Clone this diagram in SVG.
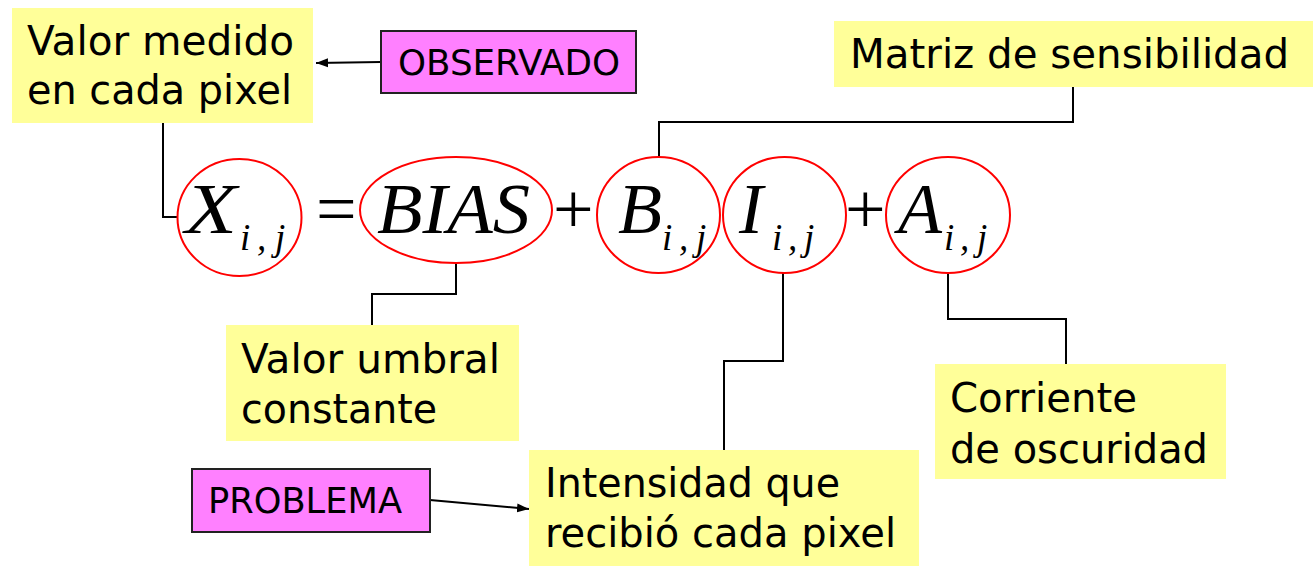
<svg xmlns="http://www.w3.org/2000/svg" width="1316" height="581" viewBox="0 0 1316 581">
<style>
.note{fill:#FFFF99;}
.tag{fill:#FF80FF;stroke:#222;stroke-width:2;}
.lbl{font-family:"DejaVu Sans","Liberation Sans",sans-serif;fill:#000;}
.big{font-size:40px;}
.mid{font-size:35px;}
.math{font-family:"Liberation Serif","Times New Roman",serif;font-style:italic;font-size:72px;fill:#000;}
.op{font-family:"Liberation Serif","Times New Roman",serif;font-size:72px;fill:#000;}
.sub{font-family:"Liberation Serif","Times New Roman",serif;font-style:italic;font-size:37px;fill:#000;}
.ring{fill:none;stroke:#FF0000;stroke-width:2;}
.wire{fill:none;stroke:#000;stroke-width:2;}
</style>
<defs>
<marker id="arr" viewBox="0 0 12 10" refX="12" refY="5" markerWidth="12" markerHeight="10" markerUnits="userSpaceOnUse" orient="auto">
<path d="M0,0.5 L12,5 L0,9.5 Z" fill="#000"/>
</marker>
</defs>
<rect width="1316" height="581" fill="#fff"/>

<g id="connectors">
<path class="wire" d="M163 122 V217 H178"/>
<path class="wire" d="M1073 87 V122 H659 V157"/>
<path class="wire" d="M456 263 V294 H372 V325"/>
<path class="wire" d="M783 273 V361 H724 V450"/>
<path class="wire" d="M948 273 V319 H1066 V364"/>
<path class="wire" d="M381 62 L316 63" marker-end="url(#arr)"/>
<path class="wire" d="M430 500 L529 509" marker-end="url(#arr)"/>
</g>

<g id="valor-medido">
<rect class="note" x="12" y="8" width="301" height="115"/>
<text class="lbl big" x="27" y="55" textLength="267" lengthAdjust="spacingAndGlyphs">Valor medido</text>
<text class="lbl big" x="27" y="104" textLength="265" lengthAdjust="spacingAndGlyphs">en cada pixel</text>
</g>

<g id="observado">
<rect class="tag" x="381" y="31" width="255" height="62"/>
<text class="lbl mid" x="398" y="75" textLength="222" lengthAdjust="spacingAndGlyphs">OBSERVADO</text>
</g>

<g id="matriz">
<rect class="note" x="834" y="21" width="479" height="66"/>
<text class="lbl big" x="850" y="68" textLength="439" lengthAdjust="spacingAndGlyphs">Matriz de sensibilidad</text>
</g>

<g id="umbral">
<rect class="note" x="226" y="325" width="293" height="116"/>
<text class="lbl big" x="241" y="373" textLength="259" lengthAdjust="spacingAndGlyphs">Valor umbral</text>
<text class="lbl big" x="241" y="423" textLength="196" lengthAdjust="spacingAndGlyphs">constante</text>
</g>

<g id="corriente">
<rect class="note" x="935" y="364" width="291" height="115"/>
<text class="lbl big" x="950" y="412" textLength="187" lengthAdjust="spacingAndGlyphs">Corriente</text>
<text class="lbl big" x="950" y="463" textLength="258" lengthAdjust="spacingAndGlyphs">de oscuridad</text>
</g>

<g id="intensidad">
<rect class="note" x="529" y="450" width="390" height="116"/>
<text class="lbl big" x="545" y="497" textLength="295" lengthAdjust="spacingAndGlyphs">Intensidad que</text>
<text class="lbl big" x="545" y="547" textLength="351" lengthAdjust="spacingAndGlyphs">recibió cada pixel</text>
</g>

<g id="problema">
<rect class="tag" x="192" y="469" width="238" height="63"/>
<text class="lbl mid" x="208" y="513" textLength="194" lengthAdjust="spacingAndGlyphs">PROBLEMA</text>
</g>

<g id="term-x">
<ellipse class="ring" cx="239.5" cy="217.5" rx="62" ry="58.5"/>
<text class="math" x="185" y="233" textLength="52" lengthAdjust="spacingAndGlyphs">X</text>
<text class="sub" x="240" y="250">i</text>
<text class="sub" x="257" y="250">,</text>
<text class="sub" x="275" y="250">j</text>
</g>

<text class="op" x="316" y="233">=</text>

<g id="term-bias">
<ellipse class="ring" cx="456" cy="210" rx="96" ry="53"/>
<text class="math" x="377" y="233" textLength="153" lengthAdjust="spacingAndGlyphs">BIAS</text>
</g>

<text class="op" x="553" y="233">+</text>

<g id="term-b">
<ellipse class="ring" cx="658.5" cy="215" rx="61.5" ry="58"/>
<text class="math" x="618" y="233">B</text>
<text class="sub" x="662" y="250">i</text>
<text class="sub" x="679" y="250">,</text>
<text class="sub" x="696" y="250">j</text>
</g>

<g id="term-i">
<ellipse class="ring" cx="784.5" cy="215" rx="61.5" ry="58"/>
<text class="math" x="739" y="233">I</text>
<text class="sub" x="772" y="250">i</text>
<text class="sub" x="788" y="250">,</text>
<text class="sub" x="804" y="250">j</text>
</g>

<text class="op" x="845" y="233">+</text>

<g id="term-a">
<ellipse class="ring" cx="948" cy="215" rx="62" ry="58"/>
<text class="math" x="898" y="233">A</text>
<text class="sub" x="944" y="250">i</text>
<text class="sub" x="960" y="250">,</text>
<text class="sub" x="977" y="250">j</text>
</g>
</svg>
